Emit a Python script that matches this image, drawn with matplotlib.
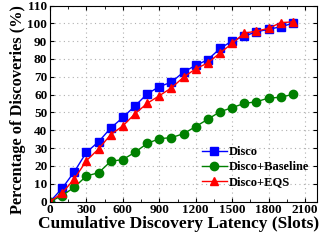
import numpy as np
import matplotlib
matplotlib.use('Agg')
import matplotlib.pyplot as plt
from matplotlib.ticker import MultipleLocator

# latency in slots
latency = [0, 100, 200, 300, 400, 500, 600, 700, 800, 900, 1000,
           1100, 1200, 1300, 1400, 1500, 1600, 1700, 1800, 1900, 2000]

disco = [0, 7.5, 16.8, 27.7, 33.6, 41.3, 47.2, 53.7, 60.4, 64.5, 67.0,
         72.7, 76.4, 79.6, 85.9, 90.1, 92.8, 95.3, 96.6, 98.1, 100.0]
disco_baseline = [0, 3.4, 8.1, 14.4, 16.2, 22.6, 23.6, 27.7, 32.6, 35.3, 35.9,
                  38.1, 42.1, 46.2, 50.4, 52.7, 55.1, 56.0, 58.1, 58.5, 60.2]
disco_eqs = [0, 4.8, 12.8, 23.0, 29.6, 37.6, 42.5, 49.3, 55.1, 59.4, 63.8,
             69.8, 74.5, 77.8, 83.4, 88.7, 94.5, 95.6, 97.2, 100.4, 100.8]

plt.rcParams['font.family'] = ['Liberation Serif', 'DejaVu Serif']
plt.rcParams['font.weight'] = 'bold'

fig = plt.figure(figsize=(3.19, 2.40), dpi=100)
ax = fig.add_axes([0.157, 0.160, 0.837, 0.817])

ax.plot(latency, disco, color='#0000ff', marker='s', markersize=5.5, lw=1.0, label='Disco')
ax.plot(latency, disco_baseline, color='#008000', marker='o', markersize=6, lw=1.0, label='Disco+Baseline')
ax.plot(latency, disco_eqs, color='#ff0000', marker='^', markersize=6, lw=1.0, label='Disco+EQS')

ax.set_xlim(0, 2200)
ax.set_ylim(0, 110)
ax.xaxis.set_major_locator(MultipleLocator(300))
ax.xaxis.set_minor_locator(MultipleLocator(150))
ax.yaxis.set_major_locator(MultipleLocator(10))
ax.grid(True, which='major', linestyle=(0, (1, 3)), color='#b0b0b0', lw=0.8)
ax.tick_params(which='both', direction='in', top=True, right=True, labelsize=9.5, pad=2)
ax.tick_params(which='major', length=3)
ax.tick_params(which='minor', length=2)
for lbl in ax.get_xticklabels() + ax.get_yticklabels():
    lbl.set_fontweight('bold')

ax.set_xlabel('Cumulative Discovery Latency (Slots)', fontsize=12.5, fontweight='bold', labelpad=0)
ax.xaxis.label.set_x(0.483)
ax.set_ylabel('Percentage of Discoveries (%)', fontsize=11.8, fontweight='bold', labelpad=1)
ax.yaxis.label.set_y(0.47)

ax.legend(loc='lower right', bbox_to_anchor=(1.005, 0.025), frameon=False, fontsize=9,
          handlelength=2.0, handletextpad=0.2, labelspacing=0.22, borderpad=0.2)

fig.savefig('out.png', dpi=100)
